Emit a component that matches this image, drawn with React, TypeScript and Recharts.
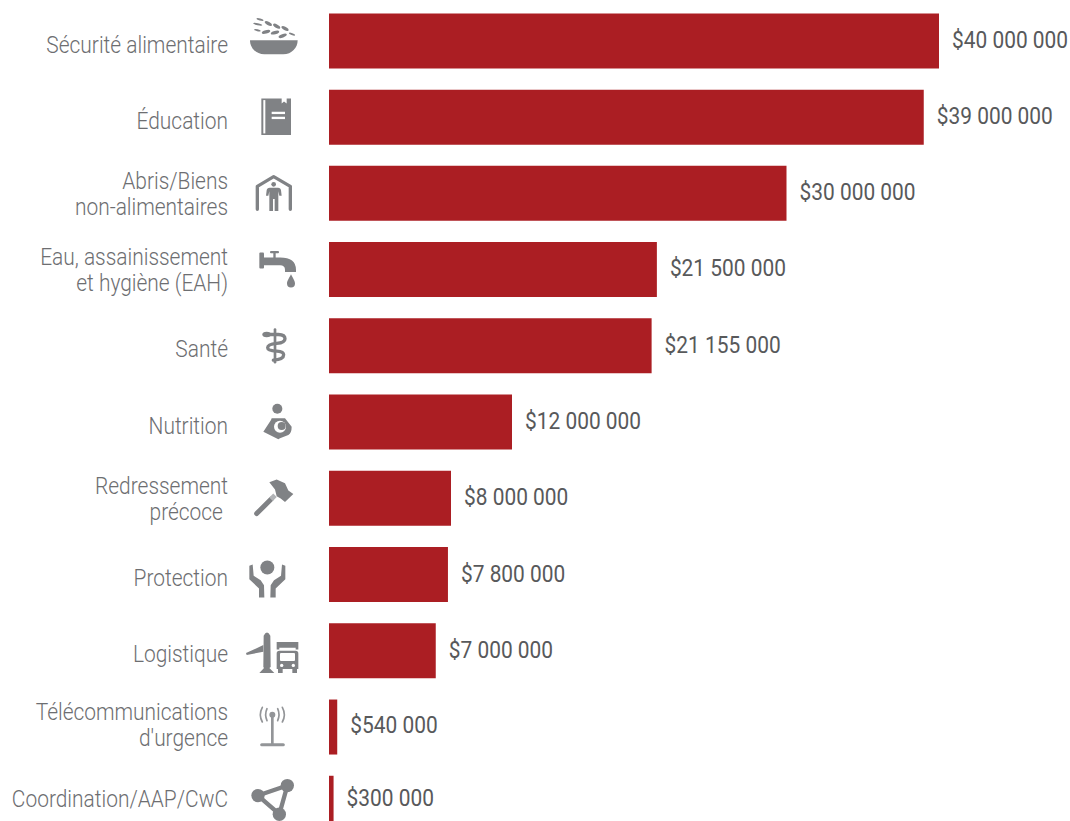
import * as React from "react";
import { Bar, BarChart, LabelList, XAxis, YAxis } from "recharts";

const sectors = [
  "Sécurité alimentaire",
  "Éducation",
  "Abris/Biens\nnon-alimentaires",
  "Eau, assainissement\net hygiène (EAH)",
  "Santé",
  "Nutrition",
  "Redressement\nprécoce ",
  "Protection",
  "Logistique",
  "Télécommunications\nd'urgence",
  "Coordination/AAP/CwC",
];
const amounts = [
  40000000, 39000000, 30000000, 21500000, 21155000, 12000000, 8000000, 7800000,
  7000000, 540000, 300000,
];

const RED = "#ab1e23";
const ICON = "#808285";
const LABEL_TEXT = "#6d6e71";
const VALUE_TEXT = "#58595b";
const FONT = "Roboto, sans-serif";

const rows = sectors.map((name, i) => ({ name, amount: amounts[i] }));

const money = (n: number) =>
  "$" + String(n).replace(/\B(?=(\d{3})+(?!\d))/g, " ");

// Sector pictograms, drawn at 3x around the centre of their row
const icons: React.ReactNode[] = [
  <g fill={ICON}>
    <path d="M-75,-1H68C68,22 50,41 25,41H-32C-57,41 -75,22 -75,-1Z" />
    <ellipse cx={-45} cy={-63} rx={11} ry={3} transform="rotate(15 -45 -63)" />
    <ellipse cx={-20} cy={-51} rx={12} ry={5} transform="rotate(30 -20 -51)" />
    <ellipse cx={5} cy={-43} rx={12} ry={5} transform="rotate(30 5 -43)" />
    <ellipse cx={30} cy={-36} rx={12} ry={5} transform="rotate(30 30 -36)" />
    <ellipse cx={-52} cy={-49} rx={14} ry={3} transform="rotate(12 -52 -49)" />
    <ellipse cx={-53} cy={-31} rx={10} ry={3} transform="rotate(12 -53 -31)" />
    <ellipse cx={-27} cy={-26} rx={13} ry={5} transform="rotate(-15 -27 -26)" />
    <ellipse cx={0} cy={-24} rx={13} ry={5} transform="rotate(-15 0 -24)" />
    <ellipse cx={23} cy={-14} rx={13} ry={5} transform="rotate(-20 23 -14)" />
    <ellipse cx={51} cy={-19} rx={10} ry={3} transform="rotate(20 51 -19)" />
  </g>,
  <g>
    <path fill={ICON} d="M-41,-55H20V-40L27,-46L35,-40V-55H48V55H-41Z" />
    <rect x={-35} y={-50} width={6} height={100} fill="#fff" />
    <rect x={-10} y={-15} width={40} height={7} fill="#fff" />
    <rect x={-10} y={0} width={40} height={7} fill="#fff" />
  </g>,
  <g>
    <path
      d="M-53,49V-20L-4,-49L46,-20V49"
      fill="none"
      stroke={ICON}
      strokeWidth={10}
      strokeLinecap="round"
      strokeLinejoin="round"
    />
    <circle cx={-4} cy={-26} r={7} fill={ICON} />
    <path
      fill={ICON}
      d="M-16,-16H9Q17,-16 18,-8L20,8H13L10,-5V54H-1V18H-6V54H-17V-5L-20,8H-27L-25,-8Q-24,-16 -16,-16Z"
    />
  </g>,
  <g fill={ICON}>
    <rect x={-47} y={-50} width={14} height={48} rx={3} />
    <path d="M-33,-35H15Q63,-35 63,2V8H30V2Q30,-12 15,-12H-33Z" />
    <rect x={-5} y={-52} width={7} height={20} />
    <rect x={-15} y={-55} width={27} height={7} rx={3} />
    <path d="M48,15C54,28 60,34 60,43A12,12 0 0 1 36,43C36,34 42,28 48,15Z" />
  </g>,
  <g>
    <rect x={-4} y={-52} width={8} height={106} rx={4} fill={ICON} />
    <path
      d="M-30,-33H10Q30,-33 30,-20Q30,-8 5,-6Q-22,-4 -22,7Q-22,16 5,17Q26,18 26,28Q26,42 -5,44"
      fill="none"
      stroke={ICON}
      strokeWidth={10}
      strokeLinecap="round"
    />
    <ellipse cx={-25} cy={-33} rx={13} ry={8} fill={ICON} />
  </g>,
  <g fill={ICON}>
    <circle cx={7} cy={-39} r={15} />
    <path d="M-10,-10H30L50,15Q50,34 40,40L15,50L10,53L-35,30L-12,-5Z" />
    <circle cx={15} cy={15} r={18} fill="#fff" />
    <circle cx={20} cy={13} r={12} />
  </g>,
  <g>
    <line
      x1={-55}
      y1={47}
      x2={-12}
      y2={4}
      stroke={ICON}
      strokeWidth={15}
      strokeLinecap="round"
    />
    <line x1={-12} y1={4} x2={0} y2={-8} stroke="#b1b3b6" strokeWidth={15} />
    <path fill={ICON} d="M-17,-47L5,-55L30,-44L40,-22L55,-12L30,12L17,2L5,-5L0,-25Z" />
  </g>,
  <g fill={ICON}>
    <circle cx={-23} cy={-20} r={21} />
    <path d="M-77,-25L-67,-29L-64,5L-43,18L-33,33L-32,70H-48V43L-77,15Z" />
    <path d="M31,-25L21,-29L18,5L-3,18L-13,33L-14,70H2V43L31,15Z" />
  </g>,
  <g fill={ICON}>
    <path d="M-34,-44Q-24,-64 -14,-44L-13,50L-17,53L-2,68H-47L-33,53L-35,50Z" />
    <path d="M-87,8L-35,-16V4L-85,14Z" />
    <path d="M5,-25H70V-3H62V-8H13V-3H5Z" />
    <path d="M13,1H62Q70,1 70,9V56H66V68H52V56H23V68H9V56H5V9Q5,1 13,1Z" />
    <rect x={15} y={8} width={45} height={24} rx={3} fill="#fff" />
    <circle cx={20} cy={45} r={5} fill="#fff" />
    <circle cx={55} cy={45} r={5} fill="#fff" />
  </g>,
  <g fill="none" stroke="#939598" strokeLinecap="round">
    <line x1={-8} y1={-36} x2={-8} y2={50} strokeWidth={8} />
    <line x1={-40} y1={54} x2={25} y2={54} strokeWidth={9} />
    <circle cx={-8} cy={-36} r={6} fill="#939598" strokeWidth={6} />
    <path d="M-24,-18Q-32,-36 -24,-54M8,-18Q16,-36 8,-54" strokeWidth={5} />
    <path d="M-38,-14Q-50,-36 -38,-58M22,-14Q34,-36 22,-58" strokeWidth={5} />
  </g>,
  <g>
    <path
      d="M-51,-22L37,-52L13,34Z"
      fill="none"
      stroke={ICON}
      strokeWidth={13}
      strokeLinejoin="round"
    />
    <circle cx={-51} cy={-22} r={20} fill={ICON} />
    <circle cx={37} cy={-52} r={20} fill={ICON} />
    <circle cx={13} cy={34} r={20} fill={ICON} />
  </g>,
];

// baseline of each line of a sector name, relative to the row centre
const lineOffsets = (index: number, count: number) => {
  if (index === 9) return [-7, 19];
  if (index === 10) return [4];
  if (count === 2) return [-4, 22];
  return [12];
};

const SectorTick = ({ y, payload, index }: any) => {
  const lines = String(payload.value).split("\n");
  const offsets = lineOffsets(index, lines.length);
  return (
    <g>
      {lines.map((line, i) => (
        <text
          key={i}
          transform={`translate(228 ${y + offsets[i]}) scale(0.872 1)`}
          textAnchor="end"
          fontFamily={FONT}
          fontWeight={300}
          fontSize={24}
          fill={LABEL_TEXT}
          xmlSpace="preserve"
        >
          {line}
        </text>
      ))}
      <g transform={`translate(275 ${y}) scale(${1 / 3})`}>{icons[index]}</g>
    </g>
  );
};

const AmountLabel = ({ x, y, width, height, value, index }: any) => {
  // the bottom row sits higher because its bar is cut by the page edge
  const lift = index === 10 ? 4 : index === 9 || index === 3 ? 1 : 0;
  return (
    <text
      transform={`translate(${x + width + 13} ${y + height / 2 + 7 - lift}) scale(0.871 1)`}
      fontFamily={FONT}
      fontSize={24}
      fill={VALUE_TEXT}
    >
      {money(value)}
    </text>
  );
};

export default function App() {
  return (
    <div
      style={{
        position: "absolute",
        left: 0,
        top: 0,
        width: 1070,
        height: 821,
        overflow: "hidden",
        background: "#fff",
      }}
    >
      {/* the last row runs off the bottom edge */}
      <BarChart
        width={1070}
        height={841}
        data={rows}
        layout="vertical"
        margin={{ top: 2.4, right: 131, bottom: 0, left: 0 }}
      >
        <XAxis type="number" hide domain={[0, 40000000]} />
        <YAxis
          type="category"
          dataKey="name"
          width={329}
          interval={0}
          axisLine={false}
          tickLine={false}
          tick={SectorTick}
        />
        <Bar dataKey="amount" fill={RED} barSize={55} isAnimationActive={false}>
          <LabelList dataKey="amount" content={AmountLabel} />
        </Bar>
      </BarChart>
    </div>
  );
}
